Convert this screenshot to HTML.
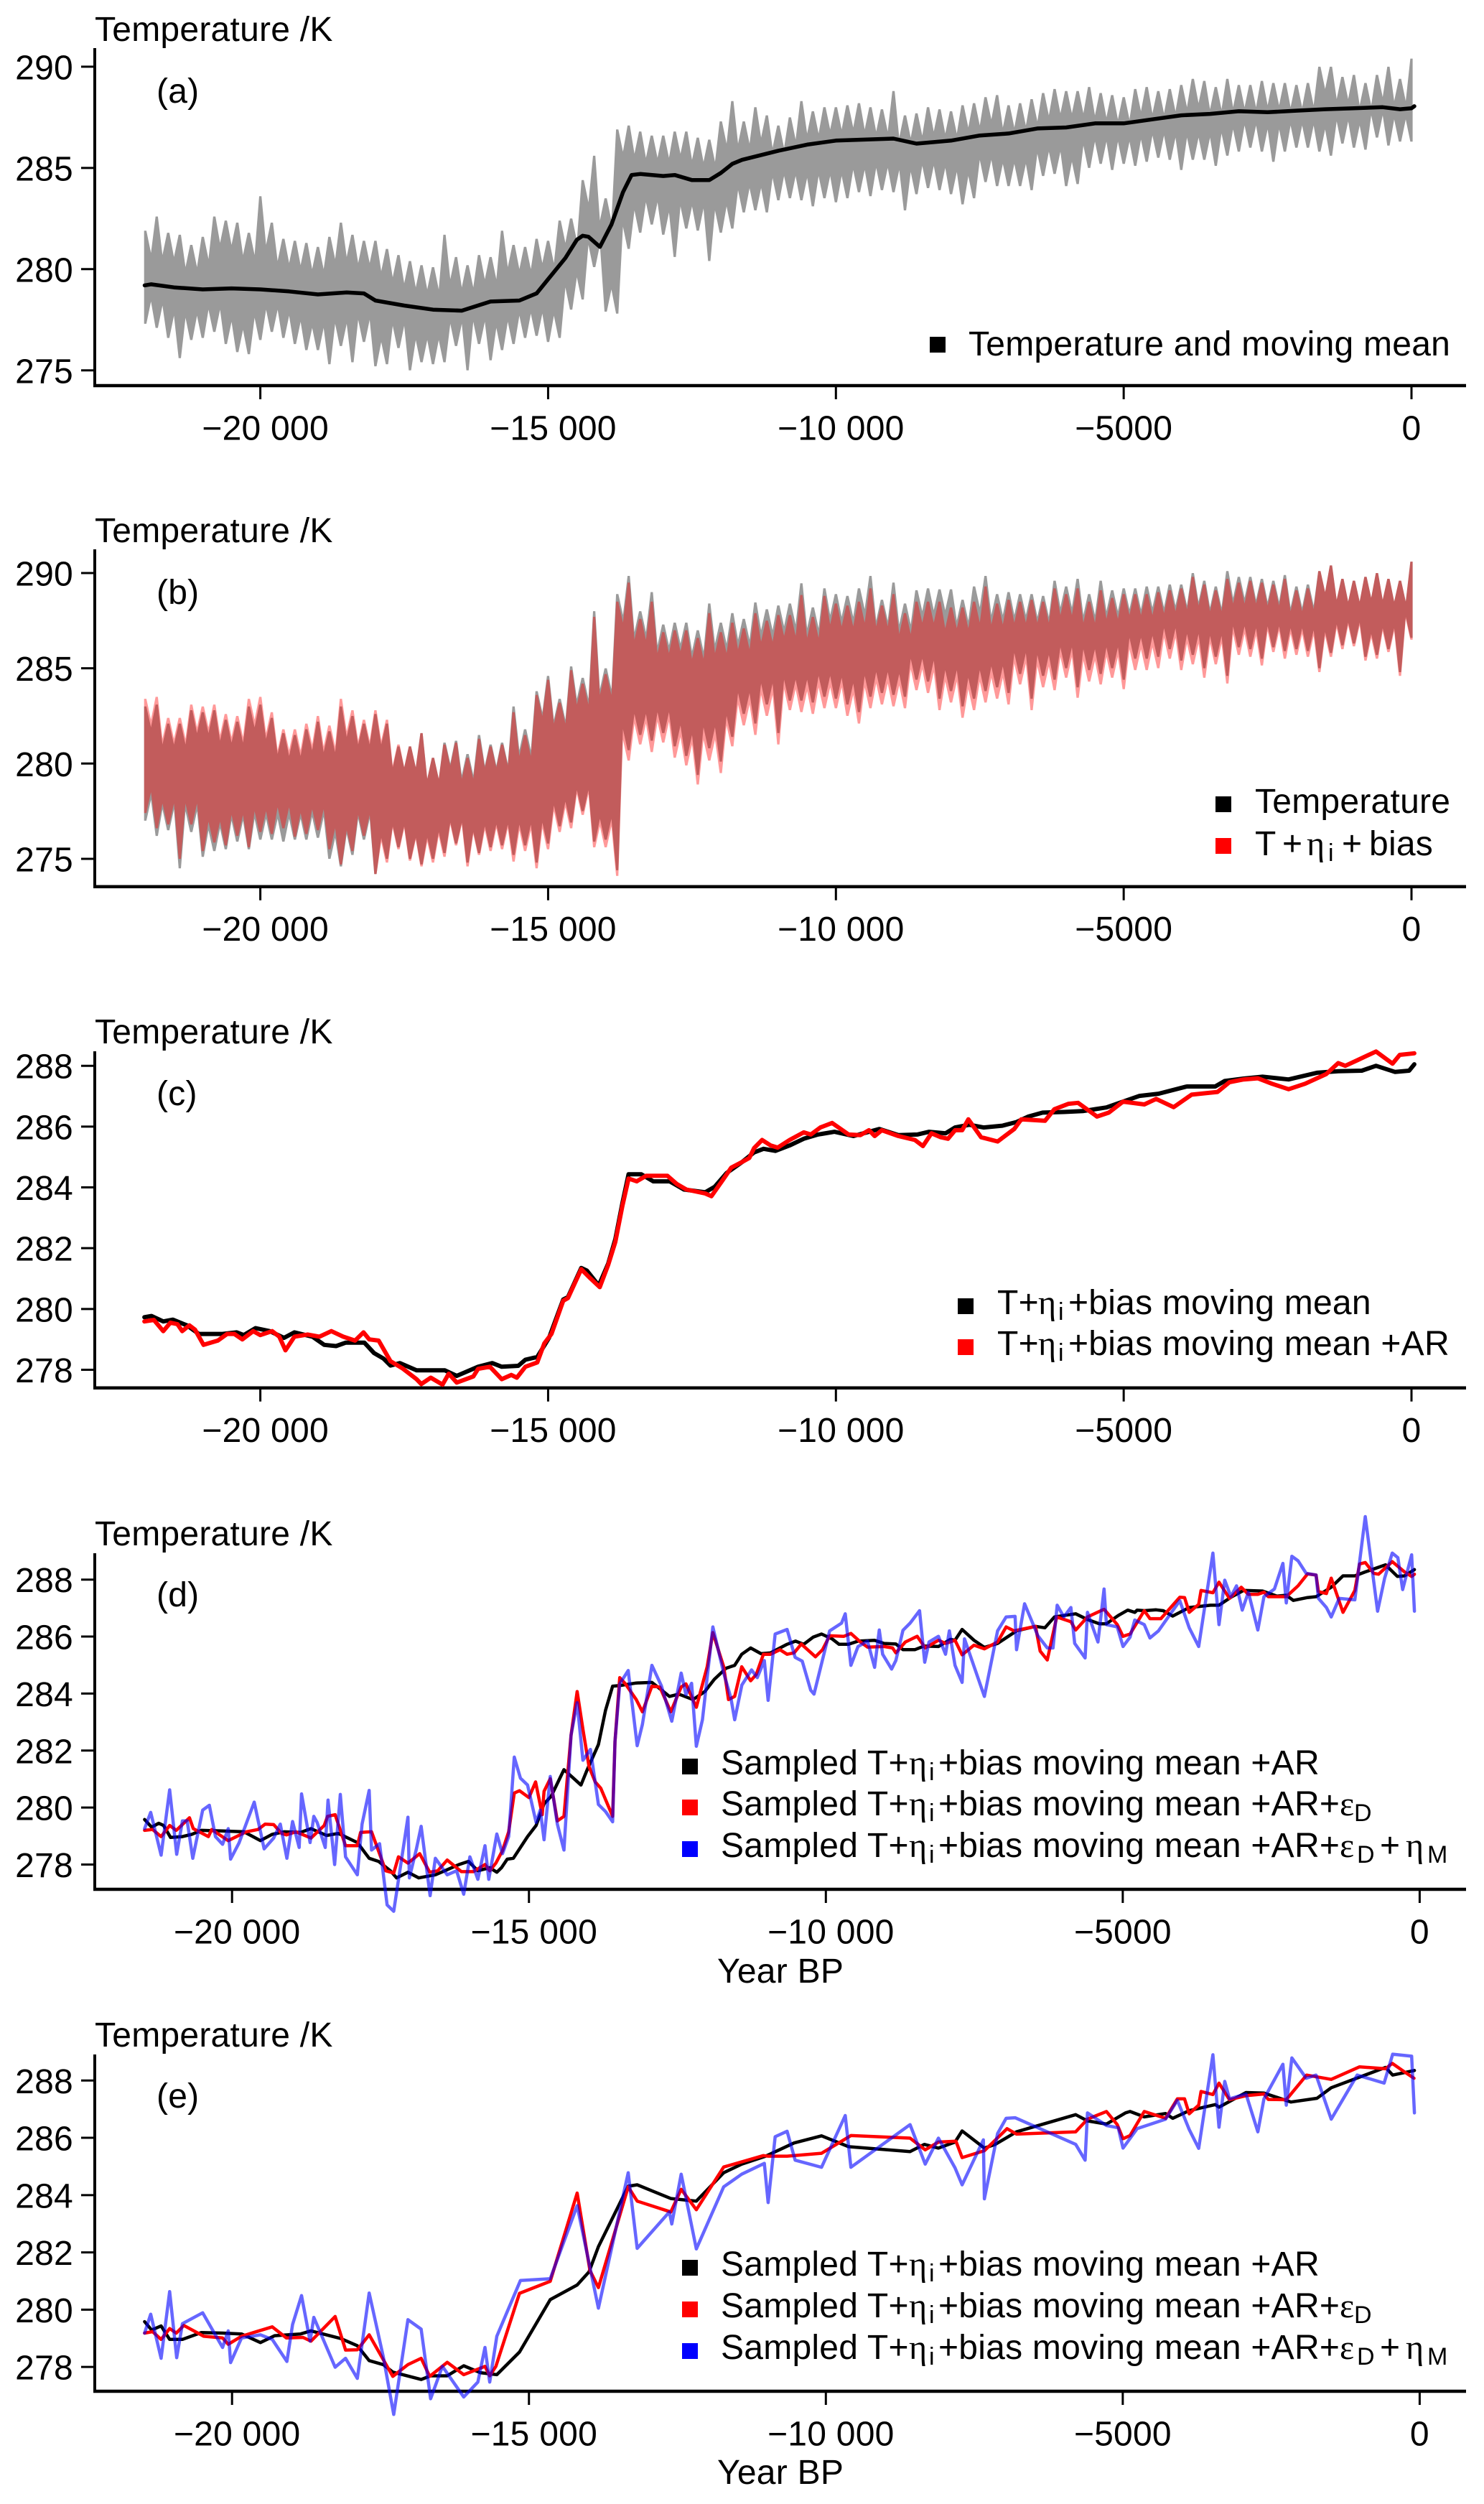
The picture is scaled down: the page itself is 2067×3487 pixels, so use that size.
<!DOCTYPE html>
<html lang="en">
<head>
<meta charset="utf-8">
<title>Temperature reconstructions</title>
<style>
html,body{margin:0;padding:0;background:#fff;}
svg{display:block;}
text{font-family:"Liberation Sans",Arial,sans-serif;font-size:48px;fill:#000;letter-spacing:.25px;}
.gr{font-family:"Liberation Serif","DejaVu Serif",serif;}
.sub{font-size:34px;}
.sym{font-size:48px;}
</style>
</head>
<body>
<svg id="chart" xmlns="http://www.w3.org/2000/svg" width="2067" height="3487" viewBox="0 0 2067 3487">
<rect x="0" y="0" width="2067" height="3487" fill="#fff"/>

<g id="panel-a">
<text x="132" y="57">Temperature /K</text>
<text x="218" y="143">(a)</text>
<rect x="1295" y="469" width="22" height="22" fill="#000"/>
<text x="1349" y="495">Temperature and moving mean</text>
</g>

<g id="panel-b">
<text x="132" y="755">Temperature /K</text>
<text x="218" y="841">(b)</text>
<rect x="1693" y="1109" width="22" height="22" fill="#000"/>
<text x="1748" y="1132">Temperature</text>
<rect x="1693" y="1167" width="22" height="22" fill="#f00"/>
<text x="1748" y="1191">T<tspan x="1786">+</tspan><tspan class="gr" x="1820">η</tspan><tspan class="sub" x="1850" dy="8">i</tspan><tspan x="1869" dy="-8">+</tspan><tspan x="1907">bias</tspan></text>
</g>

<g id="panel-c">
<text x="132" y="1453">Temperature /K</text>
<text x="218" y="1539">(c)</text>
<rect x="1334" y="1808" width="22" height="22" fill="#000"/>
<text x="1389" y="1830">T+<tspan class="gr" x="1446">η</tspan><tspan class="sub" x="1474" dy="8">i</tspan><tspan x="1488" dy="-8">+bias moving mean</tspan></text>
<rect x="1334" y="1865" width="22" height="22" fill="#f00"/>
<text x="1389" y="1887">T+<tspan class="gr" x="1446">η</tspan><tspan class="sub" x="1474" dy="8">i</tspan><tspan x="1488" dy="-8">+bias moving mean +AR</tspan></text>
</g>

<g id="panel-d">
<text x="132" y="2152">Temperature /K</text>
<text x="218" y="2237">(d)</text>
<rect x="950" y="2449" width="22" height="22" fill="#000"/>
<text x="1004" y="2471">Sampled T+<tspan class="gr" x="1266">η</tspan><tspan class="sub" x="1294" dy="8">i</tspan><tspan x="1307" dy="-8">+bias moving mean +AR</tspan></text>
<rect x="950" y="2506" width="22" height="22" fill="#f00"/>
<text x="1004" y="2528">Sampled T+<tspan class="gr" x="1266">η</tspan><tspan class="sub" x="1294" dy="8">i</tspan><tspan x="1307" dy="-8">+bias moving mean +AR+</tspan><tspan class="gr" x="1866">ε</tspan><tspan class="sub" x="1886" dy="8">D</tspan></text>
<rect x="950" y="2564" width="22" height="22" fill="#00f"/>
<text x="1004" y="2586">Sampled T+<tspan class="gr" x="1266">η</tspan><tspan class="sub" x="1294" dy="8">i</tspan><tspan x="1307" dy="-8">+bias moving mean +AR+</tspan><tspan class="gr" x="1866">ε</tspan><tspan class="sub" x="1890" dy="8">D</tspan><tspan x="1922" dy="-8">+</tspan><tspan class="gr" x="1958">η</tspan><tspan class="sub" x="1988" dy="8">M</tspan></text>
<text x="999" y="2761">Year BP</text>
</g>

<g id="panel-e">
<text x="132" y="2850">Temperature /K</text>
<text x="218" y="2935">(e)</text>
<rect x="950" y="3147" width="22" height="22" fill="#000"/>
<text x="1004" y="3169">Sampled T+<tspan class="gr" x="1266">η</tspan><tspan class="sub" x="1294" dy="8">i</tspan><tspan x="1307" dy="-8">+bias moving mean +AR</tspan></text>
<rect x="950" y="3205" width="22" height="22" fill="#f00"/>
<text x="1004" y="3227">Sampled T+<tspan class="gr" x="1266">η</tspan><tspan class="sub" x="1294" dy="8">i</tspan><tspan x="1307" dy="-8">+bias moving mean +AR+</tspan><tspan class="gr" x="1866">ε</tspan><tspan class="sub" x="1886" dy="8">D</tspan></text>
<rect x="950" y="3263" width="22" height="22" fill="#00f"/>
<text x="1004" y="3285">Sampled T+<tspan class="gr" x="1266">η</tspan><tspan class="sub" x="1294" dy="8">i</tspan><tspan x="1307" dy="-8">+bias moving mean +AR+</tspan><tspan class="gr" x="1866">ε</tspan><tspan class="sub" x="1890" dy="8">D</tspan><tspan x="1922" dy="-8">+</tspan><tspan class="gr" x="1958">η</tspan><tspan class="sub" x="1988" dy="8">M</tspan></text>
<text x="999" y="3459">Year BP</text>
</g>
</svg>

<script>
// ---------- tick labels ----------
const xTickYears = [-20000, -15000, -10000, -5000, 0];
const xTickLabels = ['\u221220 000', '\u221215 000', '\u221210 000', '\u22125000', '0'];
const yTicksWide = [290, 285, 280, 275];
const yTicksNarrow = [288, 286, 284, 282, 280, 278];

// ---------- noisy series sampling (years BP) ----------
const bandStartYear = -22000;
const bandStepYears = 200;

// ---------- panel (a) ----------
const aBandUpper = [
281.9,282.6,281.8,281.7,281.2,
281.6,282.6,282.4,282.3,281.8,
283.6,282.3,281.5,281.4,281.3,
281.1,281.6,282.3,281.7,281.4,
281.4,281.0,280.7,280.4,280.2,
280.1,281.7,280.6,280.2,280.7,
280.6,281.9,281.2,281.1,281.5,
281.4,282.4,282.5,284.4,285.6,
283.5,286.9,287.1,286.8,286.6,
286.6,286.8,286.8,286.5,286.4,
287.3,288.3,287.3,288.0,287.6,
287.1,287.5,288.3,287.8,288.0,
288.0,288.1,288.2,288.0,287.9,
288.8,287.6,287.7,288.0,287.9,
287.8,288.1,288.2,288.5,288.6,
288.1,288.2,288.4,288.7,288.9,
288.8,288.8,289.0,288.7,288.6,
288.5,288.9,289.0,288.8,288.9,
289.1,289.4,289.3,289.0,289.4,
289.1,289.1,289.3,289.2,289.2,
289.1,289.2,290.0,290.0,289.5,
289.6,289.2,289.6,290.0,289.4,
290.4];
const aBandLower = [
277.3,277.1,276.6,275.6,276.5,
276.6,276.9,276.3,275.9,275.8,
276.5,276.9,276.6,276.3,276.0,
276.0,275.3,276.2,275.4,276.4,
275.2,275.3,276.1,275.0,275.4,
275.3,275.4,276.2,275.0,276.3,
275.5,276.0,276.3,276.6,276.7,
276.4,276.6,278.0,278.5,280.1,
277.9,277.8,281.0,281.8,282.2,
281.7,280.6,282.0,281.9,280.4,
281.8,282.0,282.8,282.9,282.8,
283.4,283.5,283.4,283.1,283.5,
283.3,283.5,283.8,283.6,283.9,
283.8,282.9,283.7,284.0,283.9,
283.7,283.2,283.5,284.3,284.1,
284.1,284.1,283.9,284.6,284.7,
284.1,284.2,285.0,285.2,284.9,
285.2,285.1,285.3,285.5,285.4,
284.9,285.4,285.4,285.1,285.6,
285.8,286.0,285.8,285.3,285.8,
286.0,286.0,285.8,285.6,286.2,
286.0,285.9,286.5,286.1,286.3,
286.3];
const aMeanYears = [-22010,-21900,-21500,-21000,-20500,-20000,-19500,-19000,-18500,-18200,-18000,-17500,-17000,-16500,-16000,-15500,-15200,-15000,-14700,-14500,-14400,-14300,-14100,-13900,-13700,-13550,-13400,-13000,-12800,-12500,-12200,-12000,-11800,-11630,-11000,-10500,-10000,-9500,-9000,-8600,-8000,-7500,-7000,-6500,-6000,-5500,-5000,-4500,-4000,-3500,-3000,-2500,-2000,-1500,-1000,-500,-200,0,50];
const aMeanTemp = [279.2,279.25,279.1,279.0,279.05,279.0,278.9,278.75,278.85,278.8,278.45,278.2,278.0,277.95,278.4,278.45,278.8,279.5,280.55,281.45,281.65,281.6,281.1,282.2,283.8,284.65,284.7,284.6,284.65,284.4,284.4,284.75,285.2,285.4,285.85,286.15,286.35,286.4,286.45,286.2,286.35,286.6,286.7,286.95,287.0,287.2,287.2,287.4,287.6,287.67,287.8,287.75,287.83,287.9,287.95,288.0,287.9,287.95,288.05];

// ---------- panel (b) ----------
const bGrayUpper = [
283.0,283.1,282.1,282.1,282.8,
282.7,282.8,282.3,282.2,283.0,
283.1,282.4,281.6,281.5,281.8,
282.2,281.7,283.0,282.5,282.1,
282.6,282.1,280.9,280.9,281.6,
280.3,281.1,281.2,280.5,281.5,
281.0,281.1,283.0,281.8,283.8,
284.6,283.4,285.1,284.5,288.0,
285.0,288.9,289.85,288.0,289.0,
287.3,287.4,287.4,287.0,288.4,
287.4,287.9,287.6,288.46,288.1,
288.3,288.4,289.46,288.2,289.2,
288.9,288.8,289.2,289.85,288.6,
289.5,288.4,289.1,289.2,289.15,
289.15,288.6,289.3,289.85,288.9,
289.0,288.9,288.9,288.8,289.6,
289.3,289.7,288.9,289.6,289.1,
289.2,289.2,289.3,289.3,289.4,
289.4,290.0,289.6,289.3,290.1,
289.8,289.8,289.7,289.6,289.9,
289.3,289.4,290.1,290.4,289.7,
289.6,289.8,290.0,289.7,289.6,
290.6];
const bGrayLower = [
277.0,276.2,276.5,274.5,276.4,
275.1,275.4,275.5,275.9,275.5,
276.0,276.0,275.9,276.0,276.0,
276.1,275.0,274.6,275.2,276.0,
274.2,275.0,275.6,275.0,274.7,
275.0,275.3,275.8,274.8,275.3,
275.6,275.7,275.2,275.7,274.8,
275.8,276.7,276.9,277.5,275.9,
276.0,274.4,280.7,281.5,281.2,
281.6,280.9,280.4,279.4,280.8,
280.1,281.4,282.6,282.1,283.1,
281.6,283.3,283.3,283.2,283.5,
283.4,283.1,282.7,283.5,283.7,
283.6,283.5,284.4,284.3,283.4,
283.8,283.0,283.4,283.8,284.0,
283.7,284.7,283.4,284.6,284.4,
285.0,284.0,284.9,284.7,285.0,
284.4,285.5,285.5,285.6,286.0,
285.4,285.7,285.0,285.6,284.6,
286.1,286.0,285.5,286.1,285.9,
286.0,285.9,285.0,285.8,286.2,
286.3,285.6,285.7,286.0,284.8,
286.6];
const bRedUpper = [
283.4,283.5,282.4,282.4,283.1,
283.0,283.1,282.6,282.5,283.4,
283.5,282.7,281.8,281.8,282.1,
282.5,282.0,283.4,282.8,282.3,
282.8,282.3,281.0,280.9,281.6,
280.3,281.0,281.1,280.3,281.3,
280.9,281.0,282.7,281.5,283.6,
284.4,283.2,284.9,284.2,287.7,
284.7,288.5,289.5,287.6,288.5,
286.9,287.0,287.0,286.6,287.9,
286.9,287.4,287.1,287.9,287.5,
287.8,287.8,288.85,287.7,288.8,
288.4,288.3,288.5,289.2,288.3,
288.9,287.9,288.5,288.5,288.5,
288.2,288.2,288.5,289.3,288.4,
288.6,288.5,288.6,288.5,289.2,
288.9,289.2,288.5,289.1,288.7,
288.9,288.9,288.9,289.0,289.1,
289.2,289.8,289.4,289.1,289.7,
289.5,289.6,289.5,289.4,289.7,
289.1,289.2,290.1,290.4,289.7,
289.6,289.8,290.0,289.7,289.6,
290.6];
const bRedLower = [
277.4,276.6,276.8,275.0,276.8,
275.4,275.85,275.7,276.2,275.6,
276.4,276.3,276.6,276.15,276.3,
276.5,275.5,274.7,275.4,276.2,
274.2,274.8,275.5,274.9,274.6,
274.8,275.1,275.7,274.6,275.2,
275.4,275.5,274.85,275.4,274.5,
275.5,276.4,276.6,277.3,275.6,
275.6,274.1,280.15,281.0,280.6,
281.1,280.3,279.9,278.9,280.15,
279.5,280.9,282.0,281.5,282.5,
281.0,282.8,282.7,282.6,282.9,
282.9,282.5,282.1,282.9,283.1,
283.0,282.9,283.85,283.7,282.8,
283.2,282.4,282.8,283.2,283.4,
283.1,284.15,282.8,284.0,283.85,
284.5,283.45,284.3,284.15,284.5,
283.9,284.9,284.9,285.0,285.5,
284.9,285.2,284.5,285.2,284.2,
285.7,285.6,285.15,285.85,285.5,
285.7,285.6,284.8,285.6,286.0,
286.15,285.4,285.5,285.85,284.6,
286.5];

// ---------- panel (c) ----------
const cBlackYears = [-22015,-21891,-21686,-21521,-21275,-21069,-20658,-20411,-20288,-20082,-19836,-19589,-19408,-19095,-18890,-18684,-18520,-18191,-18026,-17862,-17738,-17574,-17286,-16793,-16587,-16217,-15970,-15806,-15518,-15395,-15189,-14984,-14737,-14655,-14424,-14326,-14120,-13956,-13832,-13709,-13602,-13380,-13174,-12887,-12640,-12270,-12105,-11900,-11627,-11422,-11257,-11052,-10805,-10559,-10312,-10025,-9696,-9244,-8915,-8587,-8381,-8094,-7929,-7683,-7436,-7108,-6861,-6656,-6409,-6039,-5711,-5300,-5012,-4725,-4396,-3903,-3410,-3246,-2917,-2588,-2136,-1643,-1274,-863,-616,-288,-41,49];
const cBlackTemp = [279.73,279.77,279.59,279.65,279.46,279.18,279.18,279.23,279.14,279.37,279.27,279.05,279.23,279.09,278.82,278.78,278.89,278.89,278.55,278.37,278.14,278.22,277.98,277.98,277.80,278.10,278.22,278.10,278.13,278.33,278.42,279.05,280.31,280.39,281.35,281.26,280.77,281.49,282.30,283.48,284.43,284.43,284.20,284.20,283.93,283.84,284.02,284.47,284.84,285.15,285.27,285.20,285.38,285.60,285.74,285.83,285.69,285.92,285.72,285.74,285.83,285.78,285.97,286.06,285.97,286.03,286.15,286.33,286.46,286.48,286.51,286.63,286.82,287.01,287.08,287.32,287.32,287.50,287.58,287.64,287.55,287.77,287.82,287.84,288.00,287.80,287.84,288.05];
const cRedYears = [-22015,-21850,-21686,-21563,-21440,-21357,-21234,-21135,-20987,-20740,-20576,-20452,-20313,-20123,-20000,-19794,-19671,-19564,-19408,-19178,-18972,-18766,-18561,-18355,-18207,-18108,-17944,-17738,-17533,-17286,-17204,-17039,-16834,-16727,-16587,-16299,-16217,-16011,-15806,-15641,-15543,-15395,-15189,-15066,-14942,-14737,-14655,-14424,-14284,-14103,-13956,-13832,-13709,-13602,-13462,-13297,-12927,-12763,-12598,-12270,-12163,-11982,-11817,-11627,-11504,-11422,-11282,-11134,-11011,-10805,-10559,-10435,-10271,-10066,-9778,-9573,-9425,-9326,-9203,-8915,-8628,-8488,-8340,-8176,-8053,-7929,-7806,-7699,-7477,-7190,-6902,-6779,-6368,-6204,-5957,-5793,-5464,-5259,-5012,-4642,-4437,-4133,-3821,-3369,-3163,-2917,-2670,-2424,-2136,-1849,-1479,-1274,-1150,-945,-616,-329,-205,49];
const cRedTemp = [279.59,279.64,279.27,279.55,279.50,279.27,279.46,279.32,278.82,278.96,279.18,279.18,279.00,279.27,279.14,279.27,279.09,278.64,279.09,279.16,279.09,279.27,279.09,278.96,279.23,279.00,278.96,278.28,278.05,277.69,277.53,277.74,277.51,277.87,277.58,277.78,278.03,278.10,277.69,277.83,277.74,278.10,278.24,278.87,279.18,280.27,280.36,281.31,281.04,280.72,281.45,282.21,283.39,284.29,284.20,284.38,284.38,284.11,283.93,283.80,283.71,284.20,284.65,284.84,284.97,285.29,285.56,285.38,285.31,285.56,285.81,285.74,285.97,286.12,285.74,285.72,285.88,285.69,285.88,285.69,285.56,285.36,285.78,285.65,285.60,285.88,285.88,286.24,285.65,285.51,285.92,286.24,286.19,286.57,286.75,286.78,286.33,286.46,286.82,286.73,286.91,286.64,287.05,287.14,287.46,287.55,287.59,287.41,287.23,287.41,287.73,288.09,288.00,288.18,288.47,288.07,288.36,288.41];

// ---------- panel (d) ----------
const dBlackYears = [-21473,-21354,-21234,-21154,-21035,-20836,-20677,-20518,-20159,-19801,-19602,-19522,-19323,-19124,-18845,-18670,-18408,-18209,-17890,-17691,-17532,-17333,-17229,-17038,-16855,-16576,-16417,-16178,-16019,-15860,-15661,-15541,-15462,-15366,-15263,-15024,-14880,-14745,-14625,-14411,-14267,-14124,-14028,-13830,-13710,-13591,-13471,-13193,-12930,-12795,-12635,-12476,-12237,-12038,-11879,-11680,-11536,-11417,-11267,-11092,-10932,-10653,-10510,-10374,-10215,-10072,-9896,-9777,-9618,-9458,-9179,-9020,-8821,-8701,-8502,-8343,-8104,-7904,-7825,-7705,-7506,-7331,-7108,-6789,-6470,-6311,-6151,-5992,-5793,-5594,-5394,-5275,-5076,-4916,-4797,-4757,-4638,-4438,-4319,-4159,-3881,-3522,-3379,-3163,-2964,-2645,-2406,-2247,-2128,-1888,-1745,-1490,-1291,-1092,-916,-574,-375,-255,-88];
const dBlackTemp = [279.58,279.31,279.45,279.37,278.95,278.98,279.06,279.20,279.18,279.15,278.93,278.84,279.06,279.15,279.13,279.26,279.02,279.09,278.77,278.22,278.11,277.78,277.53,277.73,277.53,277.64,277.78,278.00,278.11,277.78,277.89,277.73,277.89,278.19,278.22,278.98,279.37,280.13,280.40,281.33,281.06,280.79,281.28,282.21,283.41,284.26,284.28,284.37,284.39,284.17,283.90,283.98,283.79,284.07,284.50,284.89,284.99,285.38,285.60,285.40,285.43,285.73,285.84,285.73,285.98,286.09,285.92,285.73,285.73,285.84,285.87,285.76,285.74,285.54,285.54,285.67,285.65,285.90,285.87,286.25,285.87,285.62,285.76,286.20,286.36,286.31,286.69,286.74,286.80,286.60,286.45,286.45,286.74,286.93,286.85,286.93,286.91,286.94,286.91,286.72,287.02,287.10,287.10,287.40,287.62,287.60,287.42,287.45,287.27,287.37,287.40,287.73,288.13,288.13,288.27,288.52,288.11,288.13,288.35];
const dRedYears = [-21473,-21338,-21194,-21051,-20940,-20717,-20653,-20398,-20342,-20064,-19761,-19562,-19443,-19299,-19164,-19084,-18925,-18670,-18447,-18392,-18264,-18089,-17890,-17834,-17651,-17412,-17277,-17197,-17038,-16839,-16672,-16536,-16377,-16138,-15939,-15740,-15661,-15557,-15446,-15342,-15247,-15159,-15000,-14888,-14777,-14745,-14642,-14522,-14411,-14291,-14188,-14092,-13989,-13885,-13790,-13591,-13551,-13471,-13376,-13193,-13089,-12930,-12795,-12611,-12436,-12356,-12181,-11998,-11903,-11720,-11640,-11536,-11417,-11267,-11171,-11052,-10932,-10773,-10653,-10534,-10414,-10175,-10056,-9936,-9697,-9578,-9418,-9299,-9020,-8877,-8821,-8661,-8462,-8327,-8104,-7984,-7825,-7705,-7506,-7331,-7108,-6964,-6829,-6470,-6391,-6271,-6112,-5873,-5793,-5594,-5315,-5092,-4996,-4877,-4638,-4542,-4359,-4040,-3960,-3881,-3721,-3681,-3482,-3379,-3203,-3004,-2885,-2725,-2622,-2550,-2247,-2048,-1888,-1745,-1705,-1570,-1490,-1291,-1092,-1012,-916,-773,-693,-462,-255,-136,-88];
const dRedTemp = [279.20,279.23,278.98,279.37,279.20,279.64,279.26,278.98,279.23,278.84,279.15,279.23,279.42,279.40,279.09,279.04,279.15,278.93,279.37,279.69,279.75,278.66,278.66,279.13,279.15,277.78,277.70,278.27,278.05,278.38,277.73,277.78,278.16,277.75,277.75,278.00,277.78,278.05,278.49,279.15,280.51,280.59,280.35,280.90,279.75,280.57,281.01,279.53,279.69,282.54,284.07,282.75,281.44,280.90,280.68,279.69,282.32,284.56,284.34,283.79,283.36,284.26,284.23,283.36,284.23,284.34,283.52,284.94,286.14,284.94,283.79,283.90,284.94,284.45,284.67,285.38,285.38,285.54,285.38,285.43,285.74,285.29,285.54,286.03,286.01,286.11,285.81,285.63,285.65,285.60,285.43,285.81,286.01,285.60,285.87,285.76,285.87,285.36,285.70,285.57,285.81,286.34,286.20,286.36,285.49,285.18,286.69,286.52,286.23,286.69,286.96,286.42,286.01,286.09,286.91,286.63,286.63,287.38,287.37,286.85,287.13,287.62,287.54,287.91,287.34,287.73,287.48,287.48,287.56,287.40,287.40,287.78,288.20,288.16,287.58,287.51,288.05,286.85,287.62,288.55,288.60,288.22,288.19,288.63,288.27,288.11,288.19];
const dBlueYears = [-21473,-21370,-21194,-21051,-20932,-20836,-20756,-20661,-20494,-20382,-20279,-20159,-20064,-20024,-19881,-19626,-19459,-19299,-19188,-19076,-18981,-18869,-18830,-18686,-18623,-18567,-18431,-18384,-18272,-18177,-18089,-17890,-17810,-17691,-17651,-17516,-17388,-17277,-17038,-17014,-16895,-16815,-16664,-16576,-16377,-16218,-16099,-15995,-15860,-15740,-15677,-15541,-15446,-15342,-15247,-15143,-15024,-14880,-14809,-14745,-14642,-14522,-14411,-14291,-14188,-14092,-13965,-13830,-13710,-13591,-13551,-13471,-13328,-13177,-13089,-12930,-12771,-12595,-12436,-12356,-12261,-12181,-12078,-11903,-11720,-11600,-11536,-11415,-11251,-11155,-11036,-10972,-10853,-10653,-10518,-10398,-10255,-10199,-9936,-9737,-9673,-9578,-9458,-9299,-9179,-9100,-9044,-8892,-8821,-8701,-8582,-8422,-8335,-8263,-8104,-7984,-7920,-7825,-7705,-7665,-7331,-7108,-6964,-6813,-6789,-6653,-6430,-6271,-6175,-6104,-5992,-5873,-5809,-5634,-5594,-5418,-5315,-5275,-5092,-4996,-4877,-4797,-4638,-4542,-4399,-4040,-3881,-3721,-3482,-3379,-3283,-3179,-3084,-2988,-2885,-2725,-2622,-2446,-2303,-2247,-2152,-2048,-1912,-1745,-1705,-1570,-1490,-1355,-1092,-916,-709,-590,-462,-367,-287,-136,-88];
const dBlueTemp = [279.26,279.83,278.33,280.62,278.36,279.53,279.53,278.22,279.91,280.08,278.98,278.71,279.26,278.19,278.76,280.19,278.55,278.93,279.42,278.22,279.51,278.60,280.48,278.77,279.69,279.48,278.60,280.26,278.00,280.46,278.27,277.64,279.42,280.60,278.51,278.73,276.58,276.36,279.66,277.53,278.55,279.34,276.91,278.22,277.64,277.78,276.96,278.27,277.48,278.66,277.48,279.07,278.38,278.98,281.77,281.03,280.79,279.48,279.91,278.87,281.09,279.42,278.51,282.54,283.68,281.66,282.04,280.11,279.86,279.50,282.32,284.34,284.81,282.17,282.92,284.99,284.28,283.03,284.72,283.96,284.36,282.15,283.08,286.34,284.72,283.85,283.08,284.30,284.83,284.56,285.16,283.76,286.09,286.25,285.27,285.14,284.12,283.98,286.20,286.47,286.80,284.99,285.65,285.84,284.92,286.23,285.38,284.86,285.16,286.22,286.47,286.91,285.10,285.81,286.01,285.38,286.20,284.99,284.39,285.92,283.90,286.20,286.69,286.71,285.54,287.15,286.03,285.60,285.60,287.10,286.69,287.02,285.76,285.25,286.85,285.81,287.67,286.42,286.34,285.65,285.98,286.58,286.42,285.95,286.20,287.26,286.31,285.65,288.93,286.42,287.98,287.40,287.78,286.93,287.56,286.23,287.40,287.67,288.57,287.18,288.82,288.66,288.22,288.16,287.34,287.02,286.69,287.34,287.29,290.21,286.89,288.05,288.93,288.77,287.65,288.87,286.89];

// ---------- panel (e) ----------
const eBlackYears = [-21473,-21354,-21194,-21051,-20836,-20518,-20159,-19841,-19522,-19283,-18845,-18670,-18169,-17890,-17691,-17452,-17293,-16815,-16656,-16377,-16099,-15820,-15541,-15159,-14642,-14188,-13989,-13830,-13328,-13177,-12611,-12181,-11720,-11417,-11012,-10534,-10072,-9618,-8582,-8343,-8104,-7825,-7705,-7331,-7148,-6789,-5793,-5594,-5275,-4956,-4877,-4638,-4279,-4159,-3881,-3442,-3379,-2925,-2622,-2167,-1729,-1490,-574,-454,-88];
const eBlackTemp = [279.58,279.29,279.43,278.96,278.96,279.20,279.18,279.15,278.85,279.09,279.15,279.26,278.99,278.74,278.22,278.08,277.82,277.56,277.69,277.69,278.04,277.80,277.73,278.52,280.35,280.86,281.32,282.20,284.31,284.36,283.88,283.79,284.78,285.08,285.36,285.82,286.07,285.69,285.52,285.77,285.64,285.85,286.24,285.64,285.77,286.21,286.81,286.59,286.48,286.87,286.92,286.73,286.85,286.68,286.95,287.16,287.07,287.58,287.56,287.25,287.38,287.75,288.46,288.19,288.35];
const eRedYears = [-21473,-21338,-21194,-21051,-20940,-20812,-20478,-20159,-20064,-19841,-19562,-19323,-19084,-18806,-18670,-18264,-18089,-17890,-17691,-17293,-17038,-16815,-16672,-16377,-16099,-15740,-15661,-15557,-15159,-14642,-14188,-13973,-13830,-13328,-13177,-12611,-12436,-12181,-11720,-11417,-11052,-10972,-10653,-10072,-9578,-8582,-8327,-8104,-7809,-7705,-7331,-6948,-6789,-5793,-5594,-5275,-5092,-4996,-4877,-4638,-4279,-4080,-3960,-3881,-3721,-3681,-3482,-3379,-3203,-2925,-2622,-2550,-2247,-1904,-1490,-1012,-574,-462,-255,-96];
const eRedTemp = [279.18,279.23,278.96,279.34,279.18,279.45,279.07,279.01,278.79,279.07,279.25,279.40,279.01,279.03,278.90,279.76,278.59,278.60,279.12,277.67,278.08,278.30,277.67,278.16,277.73,278.02,277.69,278.02,280.57,280.99,284.07,281.37,280.77,284.29,283.79,283.41,284.20,283.49,284.98,285.16,285.38,285.36,285.36,285.46,286.08,285.99,285.58,285.85,285.88,285.31,285.55,286.32,286.13,286.21,286.65,286.92,286.46,285.97,286.08,286.92,286.68,287.36,287.36,286.84,287.14,287.62,287.51,287.91,287.33,287.47,287.53,287.34,287.33,288.19,288.04,288.48,288.41,288.60,288.30,288.08];
const eBlueYears = [-21473,-21370,-21194,-21051,-20932,-20836,-20494,-20159,-20064,-20024,-19841,-19522,-19323,-19076,-18981,-18830,-18686,-18623,-18264,-18089,-17890,-17691,-17452,-17277,-17038,-16815,-16656,-16457,-16099,-15860,-15740,-15661,-15541,-15143,-14642,-14188,-13830,-13328,-13177,-12635,-12595,-12436,-12181,-11720,-11417,-11036,-10972,-10853,-10653,-10518,-10072,-9673,-9578,-8582,-8327,-8104,-7825,-7705,-7347,-7331,-7108,-6964,-6813,-5793,-5634,-5594,-5275,-5076,-4996,-4757,-4279,-4080,-3881,-3721,-3482,-3379,-3283,-3203,-2925,-2725,-2622,-2303,-2247,-2152,-1912,-1745,-1490,-1052,-598,-454,-136,-88];
const eBlueTemp = [279.18,279.84,278.30,280.63,278.32,279.51,279.89,278.68,279.26,278.15,279.01,279.12,278.96,278.19,279.48,280.49,278.90,279.73,277.99,278.30,277.60,280.58,278.35,276.34,279.65,279.32,276.89,278.02,276.95,277.47,278.68,277.47,279.07,281.02,281.08,283.63,280.05,284.78,282.14,283.41,282.99,284.73,282.12,284.29,284.73,285.11,283.74,286.04,286.23,285.22,284.97,286.78,284.97,286.46,285.08,285.99,284.95,284.36,285.93,283.87,286.15,286.68,286.70,285.77,285.22,286.87,286.43,286.35,285.64,286.32,286.65,287.31,286.29,285.63,288.90,286.37,287.97,287.36,287.53,286.21,287.36,288.57,287.14,288.79,288.08,288.19,286.65,288.19,287.91,288.92,288.85,286.87];

// ---------- scales ----------
const axisLeft = 132, axisRight = 2042, axisStroke = 4.5, tickLen = 19;
function xUpper(year) { return 1966 + year * 0.08017; }
function xLower(year) { return 1977.4 + year * 0.08271; }
function yLinear(refK, refPx, pxPerK) { return function (k) { return refPx + (refK - k) * pxPerK; }; }

const yA = yLinear(290, 92.9, 28.19);
const yB = yLinear(290, 798, 26.53);
const yC = yLinear(288, 1484.2, 42.33);
const yD = yLinear(288, 2199.7, 39.68);
const yE = yLinear(288, 2897.3, 39.88);

const NS = 'http://www.w3.org/2000/svg';
function svgEl(tag, attrs, parent) {
  const node = document.createElementNS(NS, tag);
  Object.keys(attrs).forEach(function (k) { node.setAttribute(k, attrs[k]); });
  parent.appendChild(node);
  return node;
}

function drawAxes(group, key, top, bottom, xs, yScale, yTicks) {
  let el = svgEl('line', { x1: axisLeft, x2: axisLeft, y1: top, y2: bottom + 2, stroke: '#000', 'stroke-width': 4 }, group);
  
  
  el = svgEl('line', { x1: axisLeft - 2, x2: axisRight, y1: bottom, y2: bottom, stroke: '#000', 'stroke-width': axisStroke }, group);
  
  
  yTicks.forEach(function (t) {
    const py = yScale(t);
    let tick = svgEl('line', { x1: axisLeft - tickLen, x2: axisLeft, y1: py, y2: py, stroke: '#000', 'stroke-width': 3 }, group);
    
    
    let label = svgEl('text', { x: 102, y: py + 17.5, 'text-anchor': 'end' }, group);
    label.textContent = String(t);
    
    
  });
  xTickYears.forEach(function (yr, i) {
    const px = xs(yr);
    let tick = svgEl('line', { x1: px, x2: px, y1: bottom, y2: bottom + tickLen, stroke: '#000', 'stroke-width': 3 }, group);
    
    
    const shift = xTickLabels[i].indexOf(' ') >= 0 ? 7 : 0;
    let label = svgEl('text', { x: px + shift, y: bottom + 75.5, 'text-anchor': 'middle' }, group);
    label.textContent = xTickLabels[i];
    
    
  });
}

function bandPath(upper, lower, xs, yScale) {
  const half = 1.6, margin = 1.1;
  const n = Math.min(upper.length, lower.length);
  const topPts = [], botPts = [];
  for (let i = 0; i < n; i++) {
    const px = xs(bandStartYear + i * bandStepYears);
    topPts.push([px - half, yScale(upper[i])], [px + half, yScale(upper[i])]);
    botPts.push([px - half, yScale(lower[i])], [px + half, yScale(lower[i])]);
    if (i < n - 1) {
      const nx = xs(bandStartYear + (i + 1) * bandStepYears);
      const mid = (px + nx) / 2;
      const b = Math.min(upper[i], upper[i + 1]) - margin;
      const c = Math.max(lower[i], lower[i + 1]) + margin;
      topPts.push([mid, yScale(b)]);
      botPts.push([mid, yScale(c)]);
    }
  }
  botPts.reverse();
  return 'M' + topPts.concat(botPts).map(function (p) { return p[0].toFixed(1) + ' ' + p[1].toFixed(1); }).join('L') + 'Z';
}

function drawLine(group, name, years, temps, xs, yScale, stroke, width, opacity) {
  const pts = years.map(function (yr, i) { return xs(yr).toFixed(1) + ',' + yScale(temps[i]).toFixed(1); }).join(' ');
  const el = svgEl('polyline', { points: pts, fill: 'none', stroke: stroke, 'stroke-width': width, 'stroke-linejoin': 'round', 'stroke-linecap': 'round', 'stroke-opacity': opacity }, group);
  
  
}

// ---------- panel a ----------
const gA = document.getElementById('panel-a');
drawAxes(gA, 'a', 67, 537, xUpper, yA, yTicksWide);
const bandA = svgEl('path', { d: bandPath(aBandUpper, aBandLower, xUpper, yA), fill: '#9a9a9a' }, gA);


drawLine(gA, 'temperature-moving-mean-line', aMeanYears, aMeanTemp, xUpper, yA, '#000', 5.5, 1);

// ---------- panel b ----------
const gB = document.getElementById('panel-b');
drawAxes(gB, 'b', 765, 1234.7, xUpper, yB, yTicksWide);
const bandBGray = svgEl('path', { d: bandPath(bGrayUpper, bGrayLower, xUpper, yB), fill: '#9a9a9a' }, gB);


const bandBRed = svgEl('path', { d: bandPath(bRedUpper, bRedLower, xUpper, yB), fill: '#f00', 'fill-opacity': 0.4 }, gB);



// ---------- panel c ----------
const gC = document.getElementById('panel-c');
drawAxes(gC, 'c', 1464, 1932.7, xUpper, yC, yTicksNarrow);
drawLine(gC, 'moving-mean-line', cBlackYears, cBlackTemp, xUpper, yC, '#000', 6, 1);
drawLine(gC, 'moving-mean-ar-line', cRedYears, cRedTemp, xUpper, yC, '#f00', 6, 1);

// ---------- panel d ----------
const gD = document.getElementById('panel-d');
drawAxes(gD, 'd', 2163, 2631, xLower, yD, yTicksNarrow);
drawLine(gD, 'sampled-ar-line-d', dBlackYears, dBlackTemp, xLower, yD, '#000', 4.5, 1);
drawLine(gD, 'sampled-ar-eps-line-d', dRedYears, dRedTemp, xLower, yD, '#f00', 4.5, 1);
drawLine(gD, 'sampled-ar-eps-eta-line-d', dBlueYears, dBlueTemp, xLower, yD, '#00f', 4.5, 0.6);

// ---------- panel e ----------
const gE = document.getElementById('panel-e');
drawAxes(gE, 'e', 2861, 3330, xLower, yE, yTicksNarrow);
drawLine(gE, 'sampled-ar-line-e', eBlackYears, eBlackTemp, xLower, yE, '#000', 4.5, 1);
drawLine(gE, 'sampled-ar-eps-line-e', eRedYears, eRedTemp, xLower, yE, '#f00', 4.5, 1);
drawLine(gE, 'sampled-ar-eps-eta-line-e', eBlueYears, eBlueTemp, xLower, yE, '#00f', 4.5, 0.6);
</script>
</body>
</html>
